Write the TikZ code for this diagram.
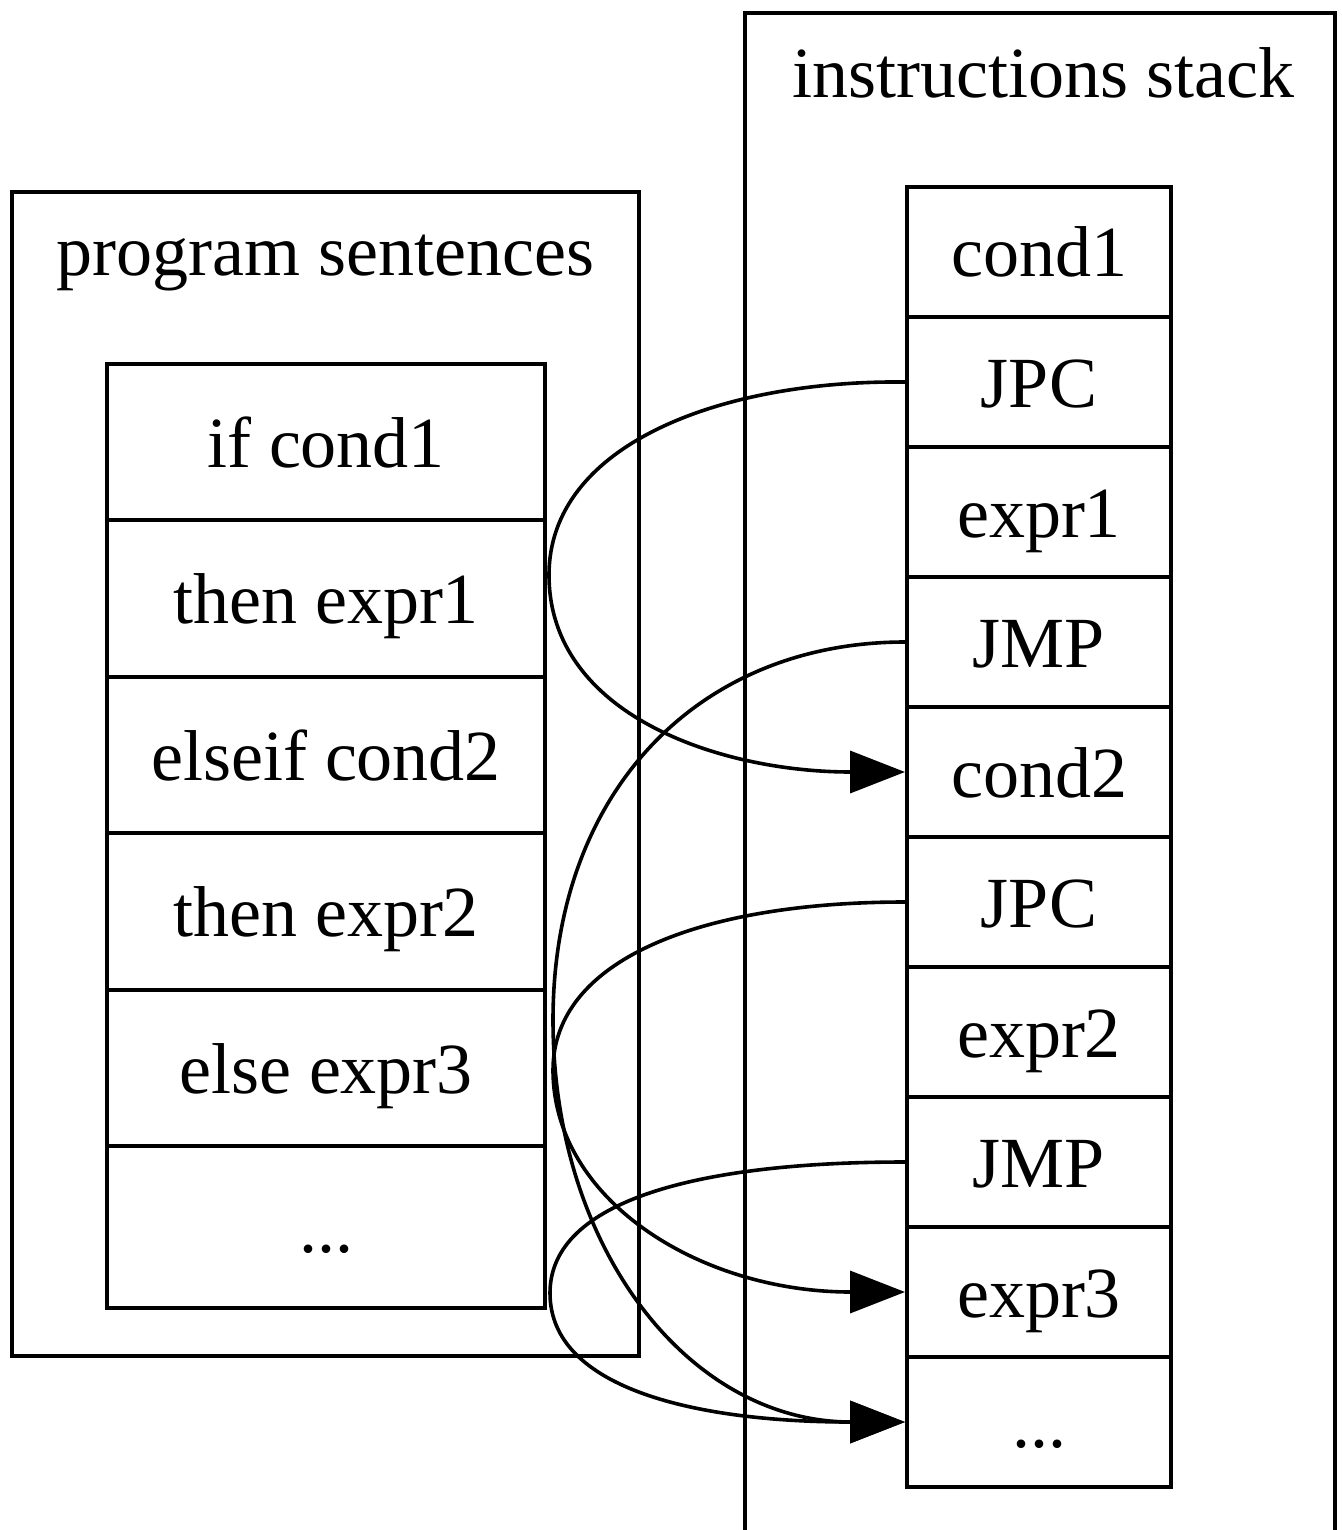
\documentclass[tikz,border=0pt]{standalone}
\usepackage{fontspec}
\setmainfont{Liberation Serif}
\usetikzlibrary{arrows.meta}
\begin{document}
\begin{tikzpicture}[x=0.5pt,y=-0.5pt,
  box/.style={draw, line width=2pt},
  title/.style={anchor=base, inner sep=0pt, font=\fontsize{36}{40}\selectfont},
  cell/.style={draw, line width=2pt, inner sep=0pt, text height=27pt, text depth=2pt,
    font=\fontsize{36}{40}\selectfont},
  lcell/.style={cell, minimum width=219pt},
  rcell/.style={cell, minimum width=132pt, minimum height=65pt},
  edge/.style={line width=1.8pt, -{Triangle[length=27.5pt, width=21pt]}}]
\useasboundingbox (0,0) rectangle (1342,1530);
\clip (0,0) rectangle (1342,1530);

% clusters
\draw[box] (12,192) rectangle (639,1356);
\node[title] (ltitle) at (325.5,276) {program sentences};
\draw[box] (745,1545) -- (745,13) -- (1335,13) -- (1335,1545);
\node[title] (rtitle) at (1043,98) {instructions stack};

% program sentences record
\node[lcell, minimum height=78pt]   (s1) at (326,442)    {if cond1};
\node[lcell, minimum height=78.5pt] (s2) at (326,598.5)  {then expr1};
\node[lcell, minimum height=78pt]   (s3) at (326,755)    {elseif cond2};
\node[lcell, minimum height=78.5pt] (s4) at (326,911.5)  {then expr2};
\node[lcell, minimum height=78pt]   (s5) at (326,1068)   {else expr3};
\node[lcell, minimum height=81pt]   (s6) at (326,1227)   {...};

% instructions stack record
\node[rcell] (cond1) at (1039,252)  {cond1};
\node[rcell] (jpc1)  at (1039,382)  {JPC};
\node[rcell] (expr1) at (1039,512)  {expr1};
\node[rcell] (jmp1)  at (1039,642)  {JMP};
\node[rcell] (cond2) at (1039,772)  {cond2};
\node[rcell] (jpc2)  at (1039,902)  {JPC};
\node[rcell] (expr2) at (1039,1032) {expr2};
\node[rcell] (jmp2)  at (1039,1162) {JMP};
\node[rcell] (expr3) at (1039,1292) {expr3};
\node[rcell] (rest)  at (1039,1422) {...};

% turning points of the jumps
\coordinate (ta) at (549,575);
\coordinate (tb) at (553,1020);
\coordinate (tc) at (553,1070);
\coordinate (td) at (550,1293);

% jumps
\draw[edge] (jpc1.west) .. controls (720,380) and (549,445) .. (ta)
  .. controls (549,715) and (720,772) .. (cond2.west);
\draw[edge] (jmp1.west) .. controls (700,642) and (553,790) .. (tb)
  .. controls (553,1250) and (690,1422) .. (rest.west);
\draw[edge] (jpc2.west) .. controls (700,902) and (553,960) .. (tc)
  .. controls (553,1200) and (700,1292) .. (expr3.west);
\draw[edge] (jmp2.west) .. controls (700,1162) and (550,1200) .. (td)
  .. controls (550,1390) and (700,1422) .. (rest.west);
\end{tikzpicture}
\end{document}
